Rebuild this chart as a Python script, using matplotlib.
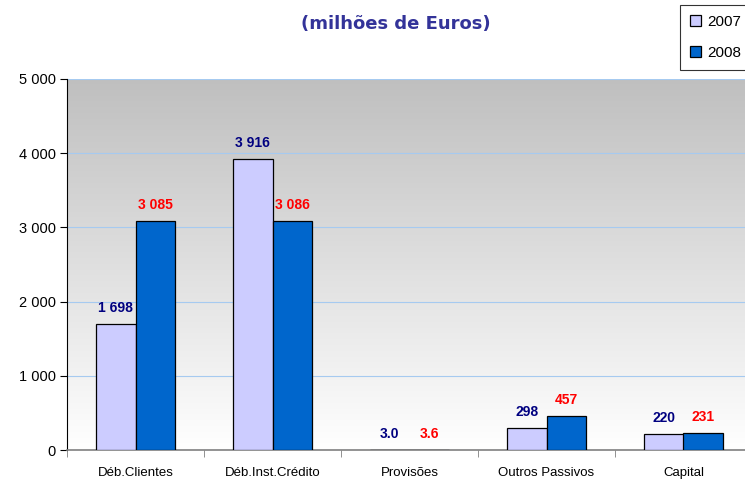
import numpy as np
import matplotlib
matplotlib.use("Agg")
import matplotlib.pyplot as plt
from matplotlib.ticker import FixedLocator

categories = ["Déb.Clientes", "Déb.Inst.Crédito", "Provisões", "Outros Passivos", "Capital"]
values_2007 = [1698, 3916, 3.0, 298, 220]
values_2008 = [3085, 3086, 3.6, 457, 231]
labels_2007 = ["1 698", "3 916", "3.0", "298", "220"]
labels_2008 = ["3 085", "3 086", "3.6", "457", "231"]
yticks = [0, 1000, 2000, 3000, 4000, 5000]
ytick_labels = ["0", "1 000", "2 000", "3 000", "4 000", "5 000"]
series_names = ["2007", "2008"]

plt.rcParams['font.family'] = ['Liberation Sans', 'DejaVu Sans']

fig = plt.figure(figsize=(7.45, 4.79), dpi=100)
ax = fig.add_axes([67/745, 1 - 450/479, (752 - 67)/745, (450 - 79)/479])

# gradient background
grad = np.linspace(0, 1, 256).reshape(-1, 1)
top = np.array([0.75, 0.75, 0.75])
bot = np.array([1.0, 1.0, 1.0])
img = top[None, None, :] * (1 - grad[:, :, None]) + bot[None, None, :] * grad[:, :, None]
ax.imshow(img, extent=[0, 1, 0, 1], transform=ax.transAxes, aspect='auto', zorder=0)

x = np.arange(len(categories))
w = 0.29
b1 = ax.bar(x - w/2, values_2007, w, color="#CCCCFF", edgecolor="black", linewidth=0.9, zorder=3, label=series_names[0])
b2 = ax.bar(x + w/2, values_2008, w, color="#0066CC", edgecolor="black", linewidth=0.9, zorder=3, label=series_names[1])

for xi, v, lab in zip(x, values_2007, labels_2007):
    ax.annotate(lab, (xi - w/2, v), xytext=(0, 11.5), textcoords="offset points",
                ha="center", va="center", color="#000080", fontsize=10, fontweight="bold", zorder=4)
for xi, v, lab in zip(x, values_2008, labels_2008):
    ax.annotate(lab, (xi + w/2, v), xytext=(0, 11.5), textcoords="offset points",
                ha="center", va="center", color="#FF0000", fontsize=10, fontweight="bold", zorder=4)

ax.set_xlim(-0.5, len(categories) - 0.5)
ax.set_ylim(0, 5000)
ax.set_yticks(yticks)
ax.set_yticklabels(ytick_labels, fontsize=10.5)
ax.yaxis.grid(True, color="#A6CAF0", linewidth=0.8, zorder=1)
ax.set_axisbelow(True)

ax.set_xticks(x)
ax.set_xticklabels(categories, fontsize=9.5)
ax.tick_params(axis='x', which='major', length=0, pad=12)
ax.xaxis.set_minor_locator(FixedLocator(np.arange(-0.5, len(categories), 1.0)))
ax.tick_params(axis='x', which='minor', length=5, color="#808080", direction='out')
ax.tick_params(axis='y', length=5, direction='out', pad=3)

for s in ["top", "right"]:
    ax.spines[s].set_visible(False)
ax.spines["left"].set_color("black")
ax.spines["bottom"].set_color("#808080")
ax.spines["bottom"].set_linewidth(1.2)

fig.text(396/745, 1 - 24/479, "(milhões de Euros)", ha="center", va="center",
         fontsize=13, fontweight="bold", color="#333399", family=["DejaVu Sans"])

leg = fig.legend(handles=[b1, b2], labels=series_names, loc="upper left",
                 bbox_to_anchor=(680/745, 1 - 5/479), fontsize=11, frameon=True,
                 fancybox=False, edgecolor="black", handlelength=0.75, handleheight=0.75,
                 handletextpad=0.4, borderpad=0.65, labelspacing=1.1, borderaxespad=0)
leg.get_frame().set_linewidth(0.8)

fig.savefig("out.png", dpi=100)
